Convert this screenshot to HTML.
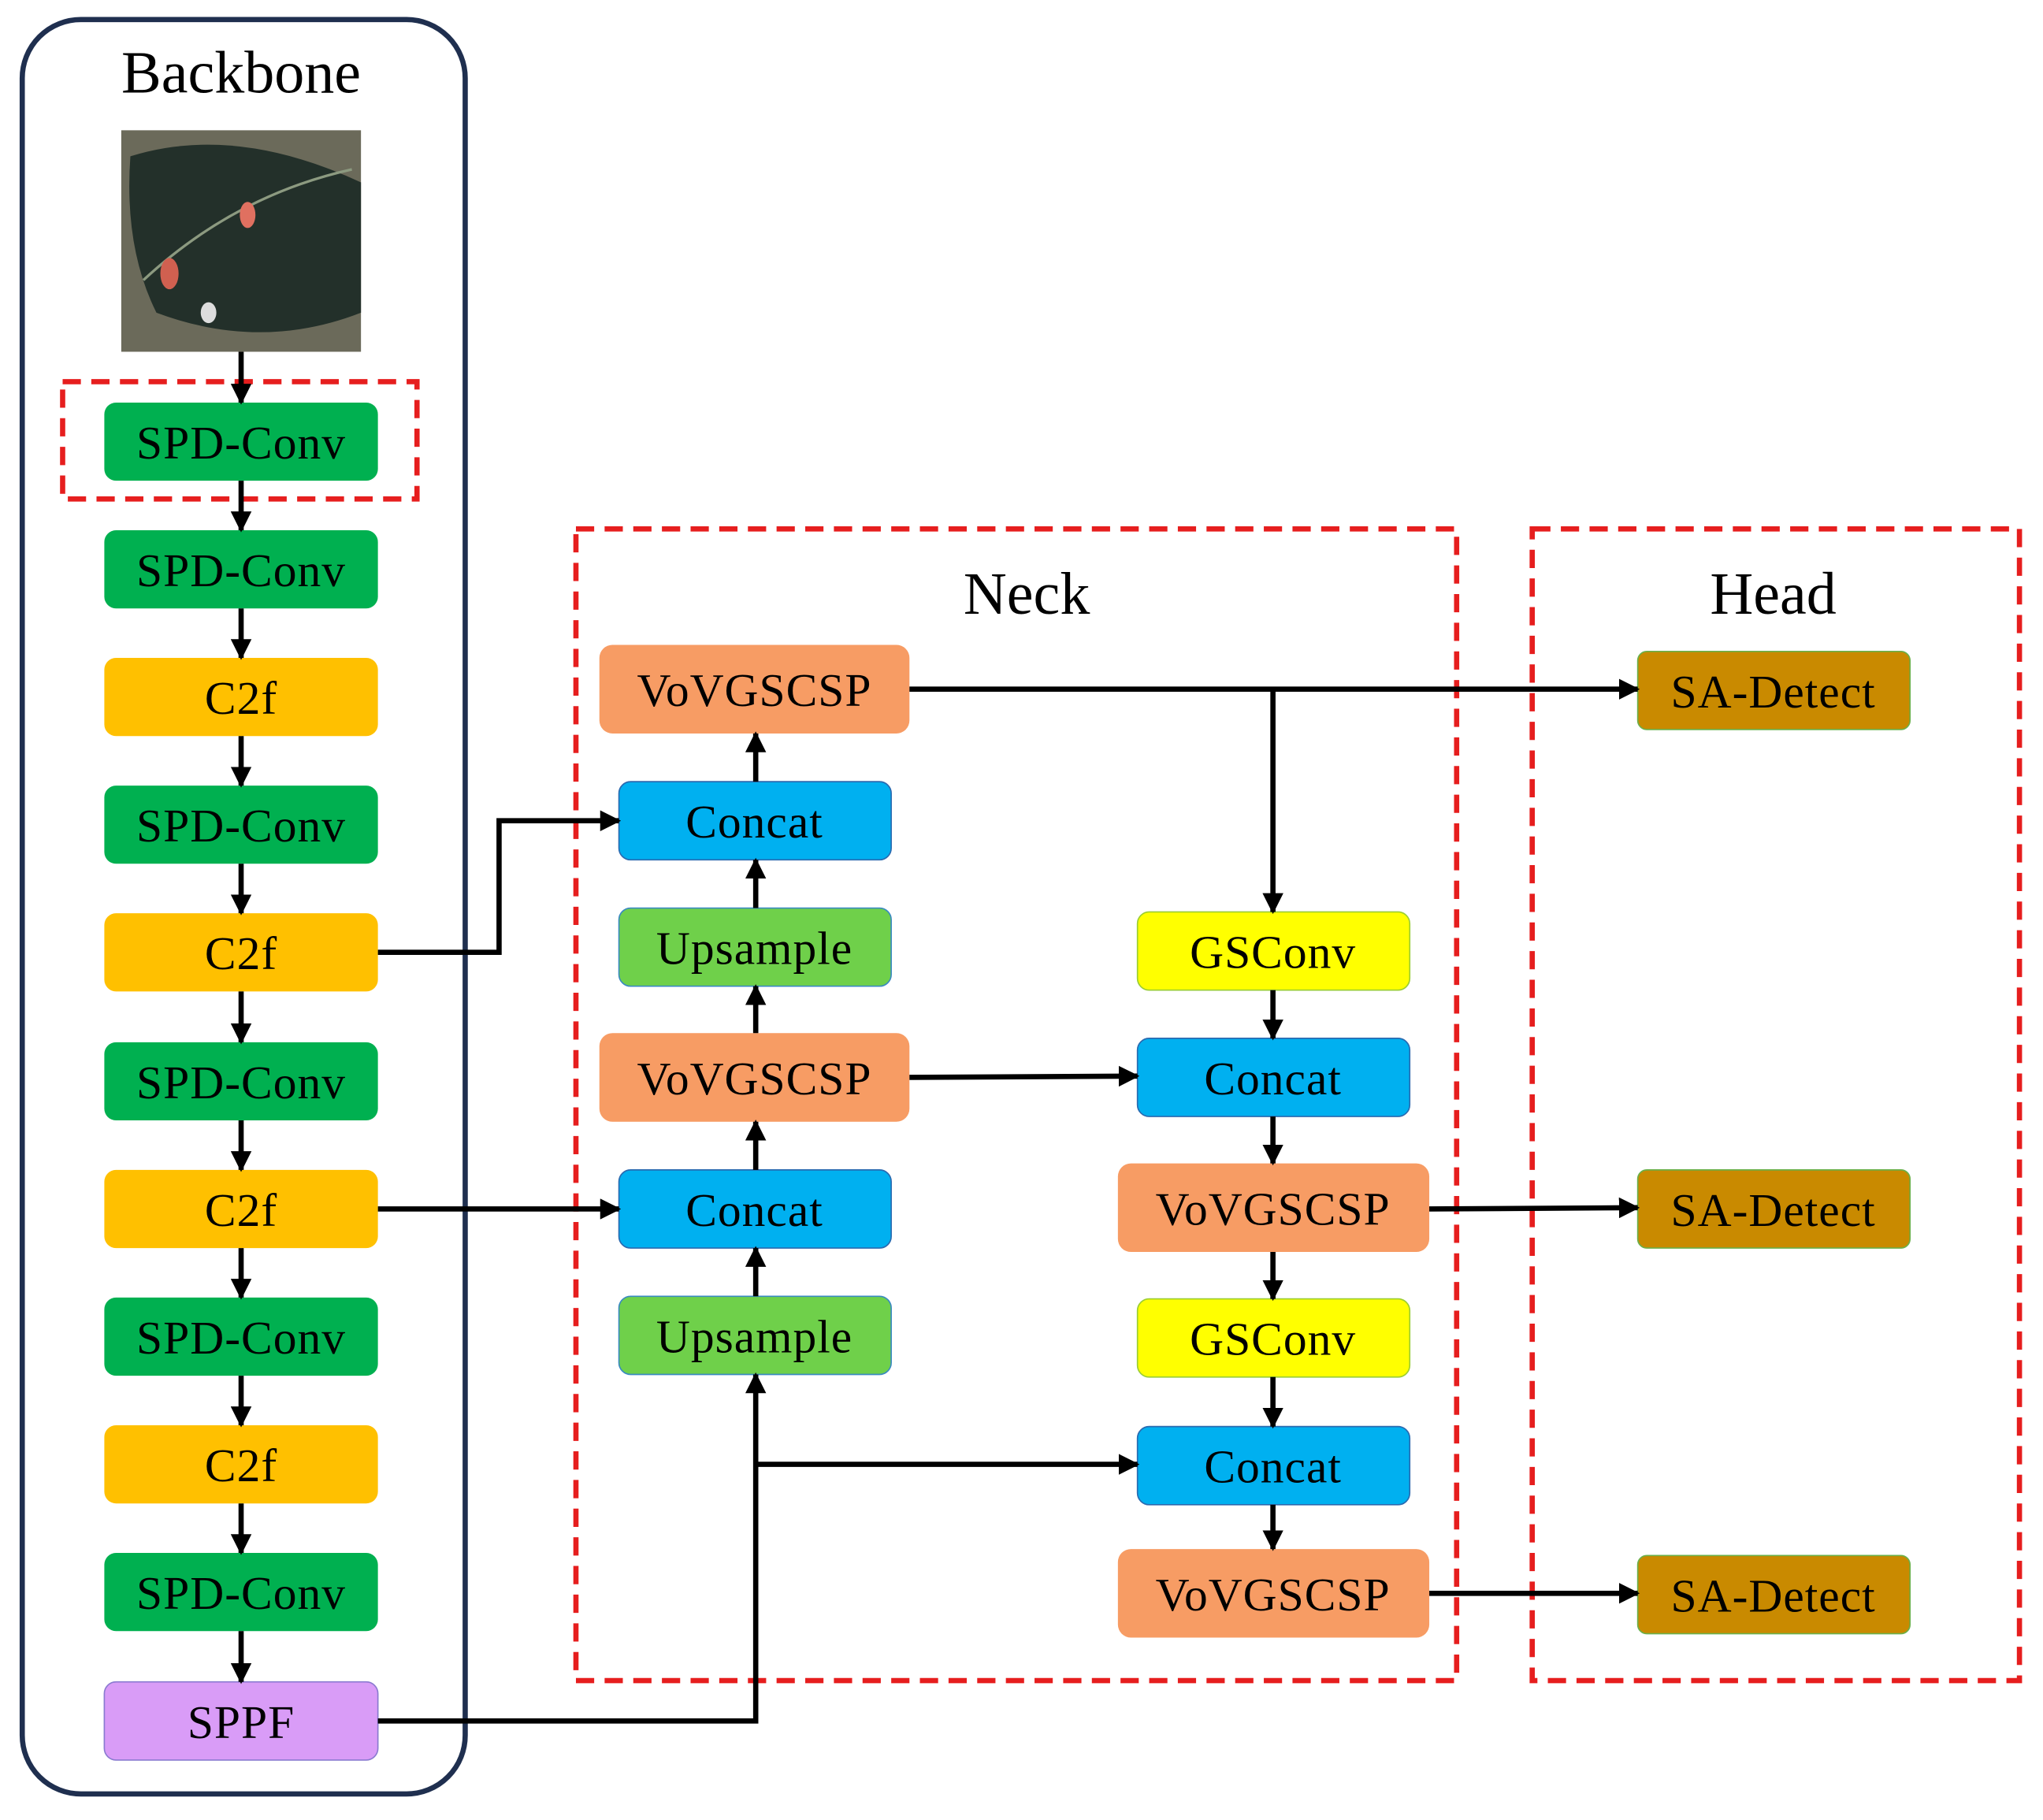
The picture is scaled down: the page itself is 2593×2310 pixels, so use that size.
<!DOCTYPE html>
<html><head><style>html,body{margin:0;padding:0;background:#fff}svg{display:block}</style></head>
<body>
<svg width="2593" height="2310" viewBox="0 0 1568 1397" xmlns="http://www.w3.org/2000/svg" font-family="'Liberation Serif', serif">
<defs>
<marker id="b" viewBox="0 0 10 10" markerWidth="16" markerHeight="16" refX="9" refY="5" orient="auto" markerUnits="userSpaceOnUse">
<path d="M0,0 L10,5 L0,10 z" fill="#000"/>
</marker>
</defs>
<rect x="17" y="15" width="340" height="1362" rx="45" fill="none" stroke="#1f2f4f" stroke-width="4"/>
<text x="185" y="71" font-size="46" text-anchor="middle">Backbone</text>
<rect x="93" y="100" width="184" height="170" fill="#6b6a5a"/>
<path d="M100,120 Q180,95 277,140 L277,240 Q200,270 120,240 Q95,190 100,120z" fill="#23302a"/>
<path d="M110,215 Q180,150 270,130" stroke="#8c9a80" stroke-width="2" fill="none"/>
<ellipse cx="190" cy="165" rx="6" ry="10" fill="#e07060"/>
<ellipse cx="130" cy="210" rx="7" ry="12" fill="#d06050"/>
<ellipse cx="160" cy="240" rx="6" ry="8" fill="#ddd"/>
<rect x="48" y="293" width="272" height="90" fill="none" stroke="#e61e1e" stroke-width="4" stroke-dasharray="14,8"/>
<rect x="442" y="406" width="676" height="884" fill="none" stroke="#e61e1e" stroke-width="4" stroke-dasharray="14,8"/>
<rect x="1176" y="406" width="374" height="884" fill="none" stroke="#e61e1e" stroke-width="4" stroke-dasharray="14,8"/>
<text x="788" y="471" font-size="46" text-anchor="middle">Neck</text>
<text x="1361" y="471" font-size="46" text-anchor="middle">Head</text>
<g font-size="36" text-anchor="middle" letter-spacing="0.6">
<rect x="80" y="309" width="210" height="60" rx="9" fill="#00b050"/><text x="185" y="352">SPD-Conv</text>
<rect x="80" y="407" width="210" height="60" rx="9" fill="#00b050"/><text x="185" y="450">SPD-Conv</text>
<rect x="80" y="505" width="210" height="60" rx="9" fill="#ffc000"/><text x="185" y="548">C2f</text>
<rect x="80" y="603" width="210" height="60" rx="9" fill="#00b050"/><text x="185" y="646">SPD-Conv</text>
<rect x="80" y="701" width="210" height="60" rx="9" fill="#ffc000"/><text x="185" y="744">C2f</text>
<rect x="80" y="800" width="210" height="60" rx="9" fill="#00b050"/><text x="185" y="843">SPD-Conv</text>
<rect x="80" y="898" width="210" height="60" rx="9" fill="#ffc000"/><text x="185" y="941">C2f</text>
<rect x="80" y="996" width="210" height="60" rx="9" fill="#00b050"/><text x="185" y="1039">SPD-Conv</text>
<rect x="80" y="1094" width="210" height="60" rx="9" fill="#ffc000"/><text x="185" y="1137">C2f</text>
<rect x="80" y="1192" width="210" height="60" rx="9" fill="#00b050"/><text x="185" y="1235">SPD-Conv</text>
<rect x="80" y="1291" width="210" height="60" rx="9" fill="#d99cf7" stroke="#8a7ad0" stroke-width="1"/><text x="185" y="1334">SPPF</text>
<rect x="460" y="495" width="238" height="68" rx="10" fill="#f79c64"/><text x="579" y="542">VoVGSCSP</text>
<rect x="475" y="600" width="209" height="60" rx="9" fill="#00b0f0" stroke="#2a6ab0"/><text x="579" y="643">Concat</text>
<rect x="475" y="697" width="209" height="60" rx="9" fill="#6fd04a" stroke="#3a8ac0"/><text x="579" y="740">Upsample</text>
<rect x="460" y="793" width="238" height="68" rx="10" fill="#f79c64"/><text x="579" y="840">VoVGSCSP</text>
<rect x="475" y="898" width="209" height="60" rx="9" fill="#00b0f0" stroke="#2a6ab0"/><text x="579" y="941">Concat</text>
<rect x="475" y="995" width="209" height="60" rx="9" fill="#6fd04a" stroke="#3a8ac0"/><text x="579" y="1038">Upsample</text>
<rect x="873" y="700" width="209" height="60" rx="9" fill="#ffff00" stroke="#9acd32"/><text x="977" y="743">GSConv</text>
<rect x="873" y="797" width="209" height="60" rx="9" fill="#00b0f0" stroke="#2a6ab0"/><text x="977" y="840">Concat</text>
<rect x="858" y="893" width="239" height="68" rx="10" fill="#f79c64"/><text x="977" y="940">VoVGSCSP</text>
<rect x="873" y="997" width="209" height="60" rx="9" fill="#ffff00" stroke="#9acd32"/><text x="977" y="1040">GSConv</text>
<rect x="873" y="1095" width="209" height="60" rx="9" fill="#00b0f0" stroke="#2a6ab0"/><text x="977" y="1138">Concat</text>
<rect x="858" y="1189" width="239" height="68" rx="10" fill="#f79c64"/><text x="977" y="1236">VoVGSCSP</text>
<rect x="1257" y="500" width="209" height="60" rx="7" fill="#c98a00" stroke="#6ab04a"/><text x="1361" y="543">SA-Detect</text>
<rect x="1257" y="898" width="209" height="60" rx="7" fill="#c98a00" stroke="#6ab04a"/><text x="1361" y="941">SA-Detect</text>
<rect x="1257" y="1194" width="209" height="60" rx="7" fill="#c98a00" stroke="#6ab04a"/><text x="1361" y="1237">SA-Detect</text>
</g>
<g stroke="#000" stroke-width="4" fill="none" marker-end="url(#b)">
<line x1="185" y1="270" x2="185" y2="309"/>
<line x1="185" y1="369" x2="185" y2="407"/>
<line x1="185" y1="467" x2="185" y2="505"/>
<line x1="185" y1="565" x2="185" y2="603"/>
<line x1="185" y1="663" x2="185" y2="701"/>
<line x1="185" y1="761" x2="185" y2="800"/>
<line x1="185" y1="860" x2="185" y2="898"/>
<line x1="185" y1="958" x2="185" y2="996"/>
<line x1="185" y1="1056" x2="185" y2="1094"/>
<line x1="185" y1="1154" x2="185" y2="1192"/>
<line x1="185" y1="1252" x2="185" y2="1291"/>
<polyline points="290,731 383,731 383,630 475,630"/>
<line x1="290" y1="928" x2="475" y2="928"/>
<polyline points="290,1321 580,1321 580,1055"/>
<polyline points="580,1124 873,1124"/>
<line x1="580" y1="995" x2="580" y2="958"/>
<line x1="580" y1="898" x2="580" y2="861"/>
<line x1="580" y1="793" x2="580" y2="757"/>
<line x1="580" y1="697" x2="580" y2="660"/>
<line x1="580" y1="600" x2="580" y2="563"/>
<line x1="698" y1="529" x2="1257" y2="529"/>
<polyline points="977,529 977,700"/>
<line x1="698" y1="827" x2="873" y2="826"/>
<line x1="977" y1="760" x2="977" y2="797"/>
<line x1="977" y1="857" x2="977" y2="893"/>
<line x1="977" y1="961" x2="977" y2="997"/>
<line x1="977" y1="1057" x2="977" y2="1095"/>
<line x1="977" y1="1155" x2="977" y2="1189"/>
<line x1="1097" y1="928" x2="1257" y2="927"/>
<line x1="1097" y1="1223" x2="1257" y2="1223"/>
</g>
</svg>
</body></html>
